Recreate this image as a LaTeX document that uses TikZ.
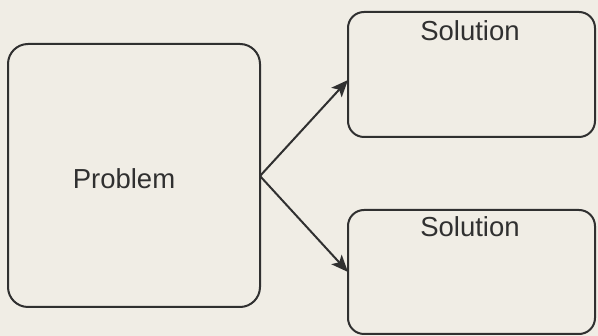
\documentclass[tikz,border=0pt]{standalone}
\usepackage{fontspec}
\setmainfont{Liberation Sans}
\usetikzlibrary{arrows.meta}
\definecolor{paper}{HTML}{F0EDE5}
\definecolor{ink}{HTML}{303030}
\begin{document}
\begin{tikzpicture}[x=1pt,y=-1pt,
  box/.style={draw=ink, line width=2pt, rounded corners=16pt},
  lbl/.style={text=ink, font=\fontsize{27.5}{30}\selectfont, inner sep=0pt},
  arr/.style={draw=ink, line width=2pt, -{Stealth[length=17pt,width=14pt,inset=4pt]}}]
\fill[paper] (0,0) rectangle (598,336);
\useasboundingbox (0,0) rectangle (598,336);
\draw[box, rounded corners=20pt] (8,44) rectangle (260,307);
\coordinate (pr) at (260,176);
\node[lbl] (problem) at (124,179) {Problem};
\draw[box] (348,12) rectangle (595,137);
\coordinate (s1) at (348,80);
\node[lbl] (sol1) at (470,31) {Solution};
\draw[box] (348,210) rectangle (595,334);
\coordinate (s2) at (348,272);
\node[lbl] (sol2) at (470,227) {Solution};
\draw[arr] (pr) -- (s1);
\draw[arr] (pr) -- (s2);
\end{tikzpicture}
\end{document}
